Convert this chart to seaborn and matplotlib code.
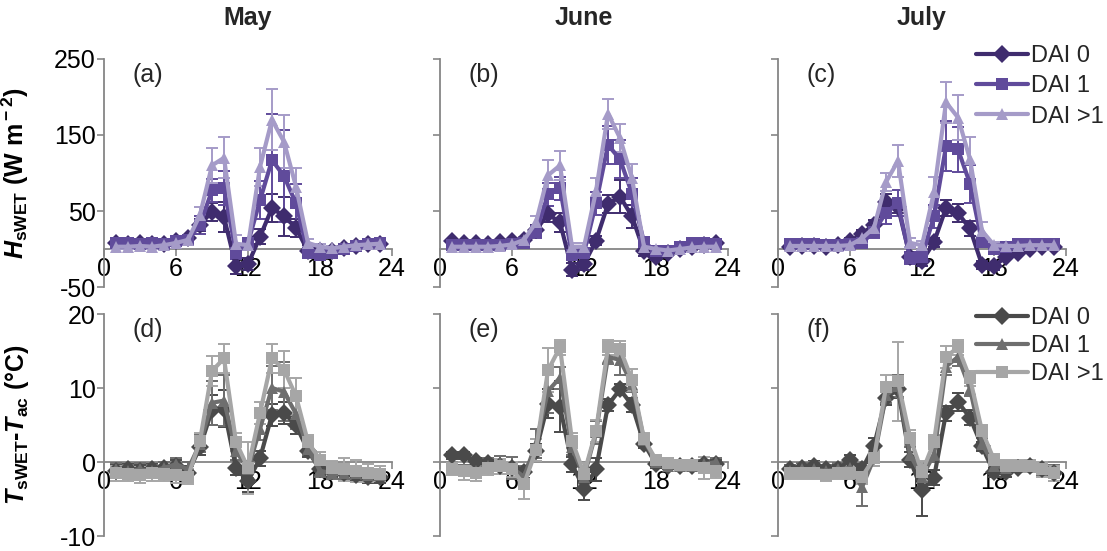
import numpy as np
import pandas as pd
import seaborn as sns
import matplotlib
matplotlib.use("Agg")
import matplotlib.pyplot as plt
from matplotlib.lines import Line2D

sns.set_style("ticks")
plt.rcParams['font.family'] = ['Liberation Sans', 'DejaVu Sans']
plt.rcParams['axes.unicode_minus'] = False
plt.rcParams['mathtext.fontset'] = 'custom'
plt.rcParams['mathtext.rm'] = 'Liberation Sans:bold'
plt.rcParams['mathtext.it'] = 'Liberation Sans:italic:bold'
plt.rcParams['mathtext.bf'] = 'Liberation Sans:bold'

# ---------------- data ----------------
hours = list(range(1, 24))
months = ["May", "June", "July"]
panel_labels_top = ["(a)", "(b)", "(c)"]
panel_labels_bot = ["(d)", "(e)", "(f)"]
series_names = ["DAI 0", "DAI 1", "DAI >1"]

# H_sWET (W m-2)
h_may_dai0 = [8, 7, 8, 6, 7, 10, 14, 32, 49, 42, -23, -20, 16, 54, 43, 28, -3, -2, -3, 1, 4, 6, 7]
h_may_dai1 = [8, 8, 7, 8, 6, 10, 12, 32, 77, 80, -5, 8, 64, 117, 96, 60, -5, -8, -5, 0, 4, 7, 8]
h_may_dai2 = [3, 3, 4, 3, 5, 8, 12, 45, 110, 120, 7, 5, 108, 170, 141, 82, 8, 3, 1, 3, 5, 6, 7]
h_may_err0 = [3, 3, 3, 3, 3, 4, 5, 8, 12, 20, 10, 8, 10, 18, 26, 12, 8, 4, 3, 3, 3, 3, 3]
h_may_err1 = [3, 3, 3, 3, 3, 4, 5, 12, 15, 22, 8, 6, 25, 60, 60, 25, 6, 4, 3, 3, 3, 3, 3]
h_may_err2 = [3, 3, 3, 3, 3, 4, 5, 10, 23, 27, 12, 6, 25, 40, 35, 24, 5, 4, 3, 3, 3, 3, 3]

h_jun_dai0 = [10, 8, 8, 7, 9, 10, 12, 25, 46, 35, -27, -20, 11, 59, 69, 43, -3, -10, -5, 0, 3, 5, 8]
h_jun_dai1 = [5, 5, 5, 5, 5, 6, 8, 22, 72, 80, -8, -5, 60, 137, 118, 73, 9, -3, -2, 3, 8, 8, 6]
h_jun_dai2 = [3, 3, 3, 3, 4, 6, 12, 35, 97, 110, 3, 3, 76, 178, 146, 93, 3, 0, -2, 0, 2, 3, 3]
h_jun_err0 = [3, 3, 3, 3, 3, 3, 4, 6, 10, 12, 8, 8, 6, 12, 22, 15, 6, 4, 3, 3, 3, 3, 3]
h_jun_err1 = [3, 3, 3, 3, 3, 3, 4, 8, 15, 15, 6, 6, 15, 25, 25, 20, 6, 4, 3, 3, 3, 3, 3]
h_jun_err2 = [3, 3, 3, 3, 3, 3, 4, 8, 20, 19, 5, 5, 18, 20, 19, 19, 5, 4, 3, 3, 3, 3, 3]

h_jul_dai0 = [3, 4, 4, 3, 5, 10, 20, 32, 62, 55, -10, -16, 9, 54, 47, 27, -21, -23, -10, -5, 0, 3, 3]
h_jul_dai1 = [6, 6, 6, 5, 5, 6, 8, 23, 48, 60, -12, -10, 43, 135, 131, 86, 9, 0, 3, 6, 6, 7, 7]
h_jul_dai2 = [4, 4, 4, 4, 4, 5, 14, 28, 88, 116, 8, 5, 75, 193, 173, 118, 24, 5, 4, 4, 5, 5, 5]
h_jul_err0 = [3, 3, 3, 3, 3, 4, 5, 6, 10, 8, 6, 6, 6, 10, 12, 10, 5, 4, 3, 3, 3, 3, 3]
h_jul_err1 = [3, 3, 3, 3, 3, 4, 5, 8, 15, 17, 8, 8, 15, 33, 30, 25, 6, 4, 3, 3, 3, 3, 3]
h_jul_err2 = [3, 3, 3, 3, 3, 4, 5, 8, 12, 21, 6, 6, 20, 27, 30, 30, 12, 4, 3, 3, 3, 3, 3]

# T_sWET - T_ac (deg C)
t_may_dai0 = [-1.2, -1.0, -1.2, -1.0, -0.8, -0.5, -1.5, 2.0, 7.0, 7.2, -0.8, -2.6, 0.5, 6.4, 6.6, 5.0, 1.5, -1.0, -1.2, -1.5, -1.8, -2.0, -2.0]
t_may_dai1 = [-1.0, -1.2, -1.0, -1.2, -0.8, -0.3, -1.0, 2.5, 8.0, 8.3, 1.5, -1.0, 4.5, 10.0, 9.5, 6.5, 1.8, -1.2, -1.5, -1.5, -1.5, -1.8, -1.8]
t_may_dai2 = [-1.5, -1.6, -1.8, -1.5, -1.6, -1.8, -2.0, 2.9, 12.3, 14.0, 2.7, -0.8, 6.6, 14.0, 12.5, 8.9, 2.7, 0.3, -0.8, -1.0, -1.2, -1.5, -1.6]
t_may_err0 = [0.8, 0.8, 0.8, 0.8, 0.8, 0.8, 1.0, 1.0, 2.0, 2.5, 1.0, 1.5, 1.0, 1.5, 1.5, 1.2, 0.8, 0.8, 0.8, 0.8, 0.8, 0.8, 0.8]
t_may_err1 = [0.8, 0.8, 0.8, 0.8, 0.8, 0.8, 1.0, 1.2, 3.0, 3.5, 1.2, 1.2, 1.5, 3.0, 4.0, 2.0, 0.8, 0.8, 0.8, 0.8, 0.8, 0.8, 0.8]
t_may_err2 = [1.0, 1.0, 1.0, 1.0, 1.0, 1.0, 1.0, 1.0, 2.0, 2.0, 1.2, 3.5, 1.5, 2.0, 2.5, 2.5, 1.0, 1.0, 1.0, 1.5, 1.5, 1.2, 1.0]

t_jun_dai0 = [0.9, 0.9, 0.1, -0.2, -0.5, -0.8, -1.4, 1.5, 7.9, 7.5, -0.3, -3.6, -1.0, 7.7, 9.8, 7.7, 2.5, -0.3, -0.5, -0.6, -0.6, -0.3, -0.3]
t_jun_dai1 = [-1.0, -1.0, -1.2, -0.5, -0.2, -0.8, -2.0, 2.5, 9.6, 11.4, 2.0, -2.0, 4.0, 14.2, 13.8, 10.5, 3.0, 0.0, -0.5, -0.6, -0.6, -0.3, 0.0]
t_jun_dai2 = [-1.0, -1.2, -1.5, -0.8, -0.6, -1.0, -3.0, 1.6, 12.4, 15.5, 2.9, -1.6, 4.2, 15.5, 15.3, 11.1, 3.1, 0.3, -0.2, -0.4, -0.4, -0.8, -1.2]
t_jun_err0 = [0.5, 0.5, 0.5, 0.5, 0.6, 0.6, 0.8, 1.0, 2.0, 3.5, 1.0, 1.5, 1.5, 0.8, 0.8, 1.0, 0.6, 0.5, 0.5, 0.5, 0.5, 0.5, 0.6]
t_jun_err1 = [0.6, 0.6, 0.6, 1.0, 1.0, 1.5, 1.5, 2.0, 3.0, 1.5, 1.0, 1.0, 1.5, 1.0, 2.0, 1.0, 0.6, 0.5, 0.5, 0.5, 0.5, 0.6, 0.6]
t_jun_err2 = [0.8, 1.2, 1.0, 1.0, 1.0, 1.0, 2.0, 1.5, 3.0, 1.0, 1.0, 1.5, 1.5, 1.0, 1.0, 1.5, 0.8, 0.5, 0.5, 0.5, 0.6, 1.5, 1.0]

t_jul_dai0 = [-1.0, -0.8, -0.5, -1.0, -1.0, 0.3, -1.0, 2.2, 8.7, 9.8, 0.3, -3.8, -2.1, 6.6, 8.1, 6.0, 2.1, -1.4, -1.4, -0.8, -0.5, -1.0, -1.5]
t_jul_dai1 = [-1.2, -1.0, -1.0, -1.2, -1.0, -0.8, -3.4, 0.5, 9.0, 10.3, 1.0, -2.0, 1.0, 12.9, 14.2, 9.9, 2.5, -0.5, -0.8, -0.6, -0.5, -1.0, -1.2]
t_jul_dai2 = [-1.5, -1.5, -1.5, -1.8, -1.5, -1.5, -2.0, 0.5, 10.2, 10.9, 3.3, -1.4, 2.7, 14.2, 15.5, 11.3, 4.2, 0.3, -0.5, -0.5, -0.5, -1.0, -1.5]
t_jul_err0 = [0.6, 0.6, 0.6, 0.6, 0.6, 0.6, 0.8, 1.0, 1.0, 1.2, 1.0, 3.5, 1.0, 1.0, 1.2, 1.0, 0.6, 0.6, 0.6, 0.6, 0.6, 0.6, 0.6]
t_jul_err1 = [0.8, 0.8, 0.8, 0.8, 0.8, 0.8, 2.5, 1.0, 1.0, 1.5, 1.0, 1.5, 1.0, 1.2, 1.2, 1.0, 0.8, 0.8, 0.8, 0.8, 0.8, 0.8, 0.8]
t_jul_err2 = [0.8, 0.8, 0.8, 0.8, 0.8, 0.8, 1.0, 1.0, 1.5, 5.3, 1.0, 1.5, 1.0, 1.5, 1.0, 1.0, 0.8, 0.8, 0.8, 0.8, 0.8, 1.0, 1.0]

top_data = [
    ([h_may_dai0, h_may_dai1, h_may_dai2], [h_may_err0, h_may_err1, h_may_err2]),
    ([h_jun_dai0, h_jun_dai1, h_jun_dai2], [h_jun_err0, h_jun_err1, h_jun_err2]),
    ([h_jul_dai0, h_jul_dai1, h_jul_dai2], [h_jul_err0, h_jul_err1, h_jul_err2]),
]
bot_data = [
    ([t_may_dai0, t_may_dai1, t_may_dai2], [t_may_err0, t_may_err1, t_may_err2]),
    ([t_jun_dai0, t_jun_dai1, t_jun_dai2], [t_jun_err0, t_jun_err1, t_jun_err2]),
    ([t_jul_dai0, t_jul_dai1, t_jul_dai2], [t_jul_err0, t_jul_err1, t_jul_err2]),
]

# ---------------- styling ----------------
top_colors = ["#3f2c6e", "#604b9b", "#a59bc8"]
top_markers = ["D", "s", "^"]
bot_colors = ["#4a4a4a", "#6e6e6e", "#a6a6a6"]
bot_markers = ["D", "^", "s"]
axis_gray = "#868686"
FS = 18
LFS = 17

W, H = 1107, 551
fig = plt.figure(figsize=(W / 100, H / 100), dpi=100)

lefts = [104, 440, 778]
width = 288
top_row = (59, 287)
bot_row = (314, 536)


def make_ax(left, row):
    t, b = row
    return fig.add_axes([left / W, 1 - b / H, width / W, (b - t) / H])


def draw_panel(ax, series_vals, series_errs, colors, markers, ylim, yticks, show_ylabels):
    frames = []
    for name, vals in zip(series_names, series_vals):
        frames.append(pd.DataFrame({"hour": hours, "value": vals, "series": name}))
    df = pd.concat(frames, ignore_index=True)
    for i, name in enumerate(series_names):
        ax.errorbar(hours, series_vals[i], yerr=series_errs[i], fmt="none",
                    ecolor=colors[i], elinewidth=1.4, capsize=4.5, capthick=1.4,
                    zorder=2 + i)
    sns.lineplot(data=df, x="hour", y="value", hue="series", style="series",
                 palette=dict(zip(series_names, colors)),
                 markers=dict(zip(series_names, markers)), dashes=False,
                 linewidth=3.0, markersize=9, markeredgewidth=0,
                 legend=False, ax=ax, zorder=5)
    ax.set_xlim(0, 24)
    ax.set_ylim(*ylim)
    ax.set_xticks([0, 6, 12, 18, 24])
    ax.set_yticks(yticks)
    ax.set_xlabel("")
    ax.set_ylabel("")
    for s in ["top", "right"]:
        ax.spines[s].set_visible(False)
    ax.spines["bottom"].set_position(("data", 0))
    for s in ["left", "bottom"]:
        ax.spines[s].set_color(axis_gray)
        ax.spines[s].set_linewidth(1.3)
    ax.tick_params(axis="both", direction="out", length=5, width=1.2,
                   color=axis_gray, labelsize=FS, labelcolor="black", pad=1)
    if not show_ylabels:
        ax.tick_params(axis="y", labelleft=False)


for j in range(3):
    ax = make_ax(lefts[j], top_row)
    vals, errs = top_data[j]
    draw_panel(ax, vals, errs, top_colors, top_markers, (-50, 250),
               [-50, 50, 150, 250], j == 0)
    ax.text(0.10, 0.93, panel_labels_top[j], transform=ax.transAxes,
            fontsize=FS, va="center", ha="left")
    ax.text(0.5, 1 + (59 - 18) / 228, months[j], transform=ax.transAxes,
            fontsize=FS, fontweight="bold", ha="center", va="center")
    if j == 0:
        ax.set_ylabel(r"$H_{\rm sWET}$ (W m$^{\rm -2}$)", fontsize=FS,
                      fontweight="bold", color="black")
        ax.yaxis.set_label_coords(-0.255, 0.5)
    if j == 2:
        handles = [Line2D([], [], color=c, marker=m, lw=3.0, ms=9, mew=0)
                   for c, m in zip(top_colors, top_markers)]
        fig.legend(handles, series_names, loc="upper left",
                   bbox_to_anchor=(976 / W, 1 - 45 / H), frameon=False,
                   fontsize=LFS, borderpad=0, borderaxespad=0,
                   handlelength=2.2, handletextpad=0.15, labelspacing=0.35)

for j in range(3):
    ax = make_ax(lefts[j], bot_row)
    vals, errs = bot_data[j]
    draw_panel(ax, vals, errs, bot_colors, bot_markers, (-10, 20),
               [-10, 0, 10, 20], j == 0)
    ax.text(0.10, 0.93, panel_labels_bot[j], transform=ax.transAxes,
            fontsize=FS, va="center", ha="left")
    if j == 0:
        ax.set_ylabel(r"$T_{\rm sWET}$-$T_{\rm ac}$ (°C)", fontsize=FS,
                      fontweight="bold", color="black")
        ax.yaxis.set_label_coords(-0.255, 0.5)
    if j == 2:
        handles = [Line2D([], [], color=c, marker=m, lw=3.0, ms=9, mew=0)
                   for c, m in zip(bot_colors, bot_markers)]
        fig.legend(handles, series_names, loc="upper left",
                   bbox_to_anchor=(976 / W, 1 - 307 / H), frameon=False,
                   fontsize=LFS, borderpad=0, borderaxespad=0,
                   handlelength=2.2, handletextpad=0.15, labelspacing=0.25)

fig.savefig("out.png", dpi=100, facecolor="white")
